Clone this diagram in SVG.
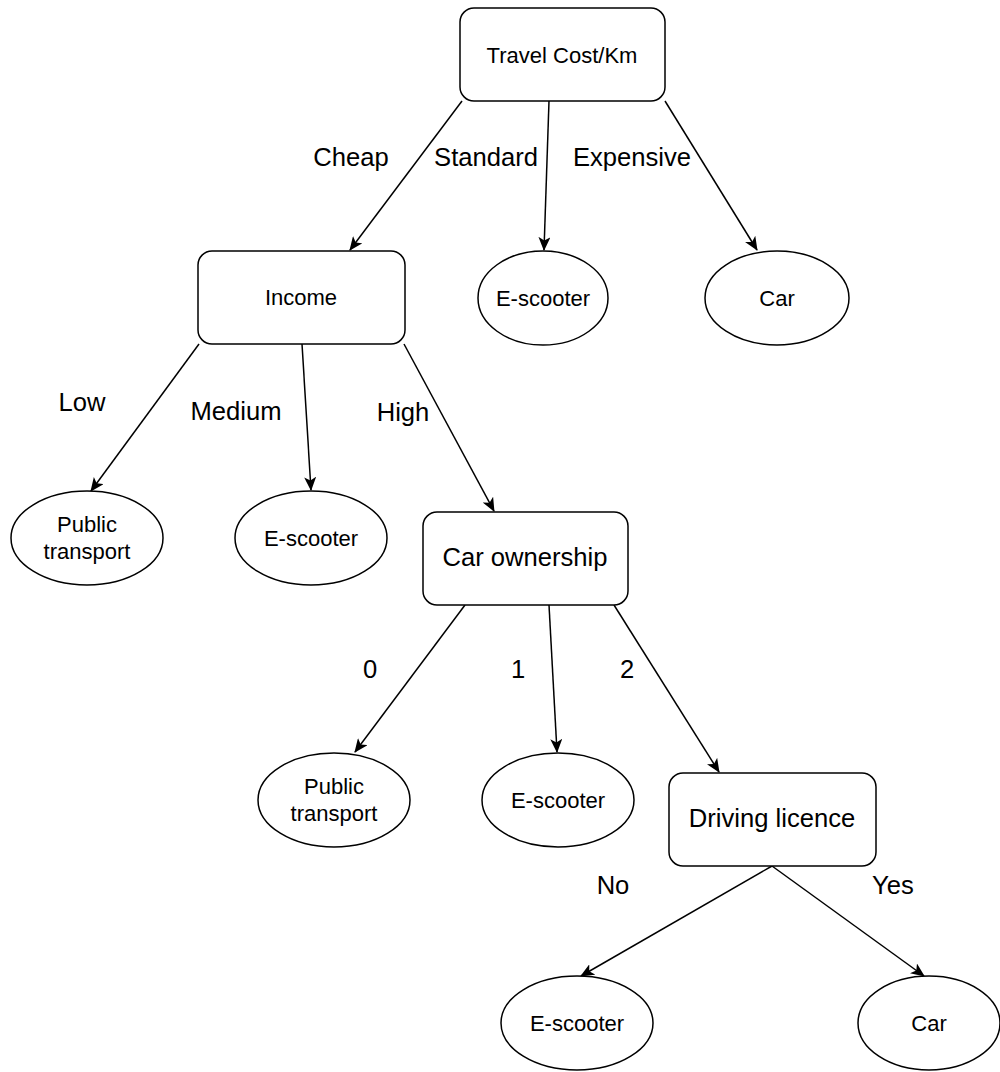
<svg xmlns="http://www.w3.org/2000/svg" width="1000" height="1072" viewBox="0 0 1000 1072">
<style>
.box{fill:#fff;stroke:#000;stroke-width:1.5}
.ell{fill:#fff;stroke:#000;stroke-width:1.5}
.t{font-family:"Liberation Sans",Arial,sans-serif;fill:#000;text-anchor:middle}
.s{font-size:22px}
.m{font-size:25.6px}
.edge{stroke:#000;stroke-width:1.5;fill:none;marker-end:url(#arr)}
.lbl{font-family:"Liberation Sans",Arial,sans-serif;font-size:25.6px;fill:#000;text-anchor:middle}
</style>
<defs>
<marker id="arr" viewBox="0 0 14 12" refX="13" refY="6" markerWidth="14" markerHeight="12" markerUnits="userSpaceOnUse" orient="auto">
<path d="M0,0 L14,6 L0,12 L3.5,6 Z" fill="#000"/>
</marker>
</defs>
<g id="connectors">
<line class="edge" x1="462" y1="101" x2="350" y2="250"/>
<line class="edge" x1="549" y1="101" x2="544" y2="250"/>
<line class="edge" x1="665" y1="101" x2="757" y2="250"/>
<line class="edge" x1="199" y1="344" x2="91" y2="491"/>
<line class="edge" x1="302" y1="344" x2="311" y2="490"/>
<line class="edge" x1="404" y1="344" x2="494" y2="511"/>
<line class="edge" x1="465" y1="605" x2="355" y2="752"/>
<line class="edge" x1="549" y1="605" x2="557" y2="752"/>
<line class="edge" x1="614" y1="605" x2="719" y2="772"/>
<line class="edge" x1="772" y1="866" x2="581" y2="976"/>
<line class="edge" x1="772" y1="866" x2="924" y2="976"/>
</g>
<g id="edge-labels">
<text class="lbl" x="351" y="166">Cheap</text>
<text class="lbl" x="486" y="166">Standard</text>
<text class="lbl" x="632" y="166">Expensive</text>
<text class="lbl" x="82" y="411">Low</text>
<text class="lbl" x="236" y="420">Medium</text>
<text class="lbl" x="403" y="421">High</text>
<text class="lbl" x="370" y="678">0</text>
<text class="lbl" x="518" y="678">1</text>
<text class="lbl" x="627" y="678">2</text>
<text class="lbl" x="613" y="894">No</text>
<text class="lbl" x="893" y="894">Yes</text>
</g>
<g id="travel-cost">
<rect class="box" x="460" y="8" width="205" height="93" rx="14"/>
<text class="t s" x="562" y="63">Travel Cost/Km</text>
</g>
<g id="income">
<rect class="box" x="198" y="251" width="207" height="93" rx="14"/>
<text class="t s" x="301" y="305">Income</text>
</g>
<g id="escooter-1">
<ellipse class="ell" cx="543" cy="298" rx="65" ry="47"/>
<text class="t s" x="543" y="306">E-scooter</text>
</g>
<g id="car-1">
<ellipse class="ell" cx="777" cy="298" rx="72" ry="47"/>
<text class="t s" x="777" y="306">Car</text>
</g>
<g id="public-transport-1">
<ellipse class="ell" cx="87" cy="538" rx="76" ry="47"/>
<text class="t s" x="87" y="532">Public</text>
<text class="t s" x="87" y="559">transport</text>
</g>
<g id="escooter-2">
<ellipse class="ell" cx="311" cy="538" rx="76" ry="47"/>
<text class="t s" x="311" y="546">E-scooter</text>
</g>
<g id="car-ownership">
<rect class="box" x="423" y="512" width="205" height="93" rx="14"/>
<text class="t m" x="525" y="566">Car ownership</text>
</g>
<g id="public-transport-2">
<ellipse class="ell" cx="334" cy="800" rx="76" ry="47"/>
<text class="t s" x="334" y="794">Public</text>
<text class="t s" x="334" y="821">transport</text>
</g>
<g id="escooter-3">
<ellipse class="ell" cx="558" cy="800" rx="76" ry="47"/>
<text class="t s" x="558" y="808">E-scooter</text>
</g>
<g id="driving-licence">
<rect class="box" x="669" y="773" width="207" height="93" rx="14"/>
<text class="t m" x="772" y="827">Driving licence</text>
</g>
<g id="escooter-4">
<ellipse class="ell" cx="577" cy="1023" rx="76" ry="47"/>
<text class="t s" x="577" y="1031">E-scooter</text>
</g>
<g id="car-2">
<ellipse class="ell" cx="929" cy="1023" rx="71" ry="47"/>
<text class="t s" x="929" y="1031">Car</text>
</g>
</svg>
